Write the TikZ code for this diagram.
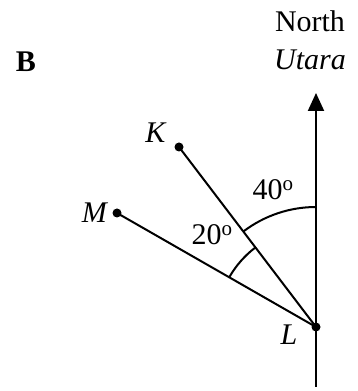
\documentclass[tikz,border=0pt]{standalone}
\usepackage{fontspec}
\setmainfont{Liberation Serif}
\usetikzlibrary{arrows.meta}
\begin{document}
\begin{tikzpicture}[x=1pt,y=1pt,
  lbl/.style={inner sep=0pt,font=\fontsize{30}{34}\selectfont},
  seg/.style={line width=2pt},
  ptdot/.style={circle,fill=black,inner sep=0pt,minimum size=9pt}]
\useasboundingbox (0,0) rectangle (357,391);
\coordinate (L) at (316,64);
\coordinate (K) at (179,244);
\coordinate (M) at (117,178);
\coordinate (S) at (316,4);
\coordinate (N) at (316,298);
\draw[seg,-{Triangle[length=18pt,width=16pt]}] (S) -- (N);
\draw[seg] (L) -- (K);
\draw[seg] (L) -- (M);
\node[ptdot] (Kd) at (K) {};
\node[ptdot] (Md) at (M) {};
\node[ptdot] (Ld) at (L) {};
% angle arcs
\draw[seg] (L) ++(90:120) arc[start angle=90,end angle=127.3,radius=120];
\draw[seg] (L) ++(127.3:100) arc[start angle=127.3,end angle=150.2,radius=100];
% labels
\node[lbl] (Kl) at (156,258) {\textit{K}};
\node[lbl] (Ml) at (95,178) {\textit{M}};
\node[lbl] (Ll) at (289,56) {\textit{L}};
\node[lbl] (a40) at (273,201) {40\textsuperscript{o}};
\node[lbl] (a20) at (212,156) {20\textsuperscript{o}};
\node[lbl] (north) at (310,370) {North};
\node[lbl] (utara) at (310,331) {\textit{Utara}};
\node[lbl] (B) at (26,329) {\textbf{B}};
\end{tikzpicture}
\end{document}
